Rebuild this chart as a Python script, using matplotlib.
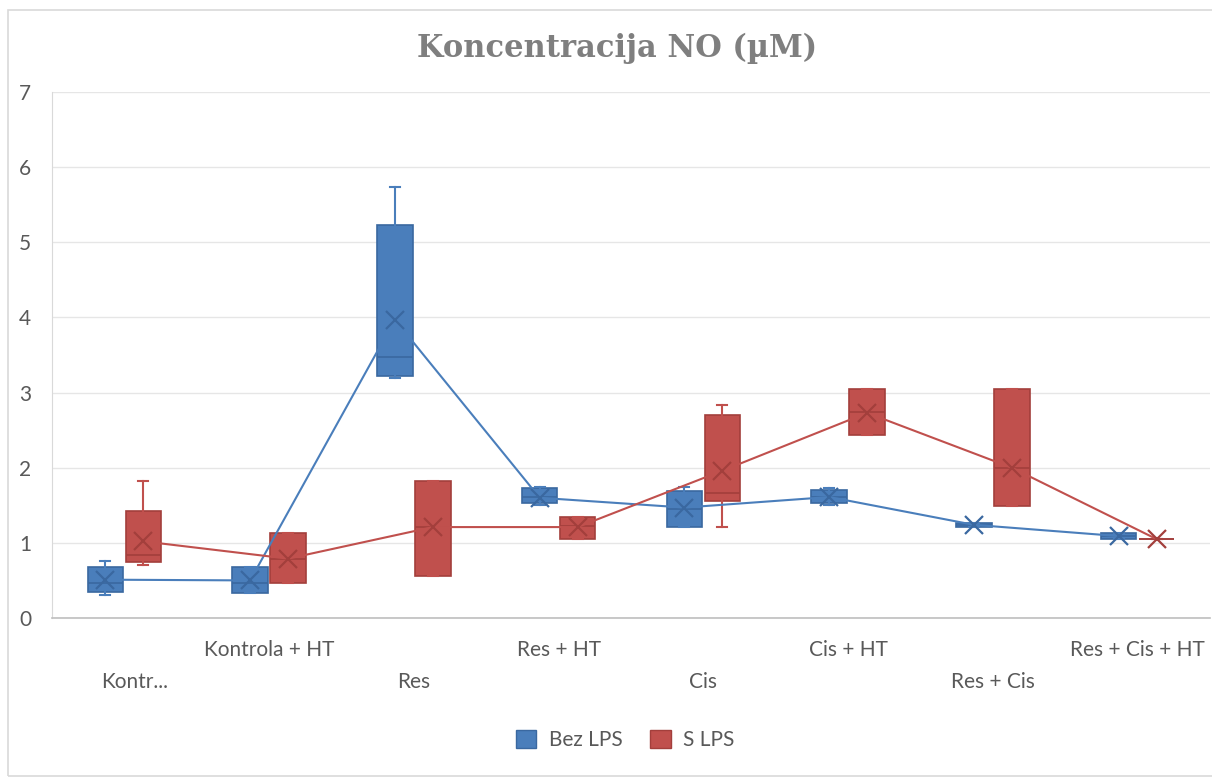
import numpy as np
import matplotlib
matplotlib.use("Agg")
import matplotlib.pyplot as plt
from matplotlib.patches import Rectangle, Patch
from matplotlib.transforms import blended_transform_factory

# ---------------------------------------------------------------------------
# podaci: koncentracija NO (uM) po skupinama
# ---------------------------------------------------------------------------
tick_labels = ["Kontr...", "Kontrola + HT", "Res", "Res + HT",
               "Cis", "Cis + HT", "Res + Cis", "Res + Cis + HT"]

# Bez LPS
bez_whislo = [0.31, 0.33, 3.20, 1.51, 1.21, 1.51, 1.21, 1.05]
bez_q1 = [0.35, 0.33, 3.22, 1.53, 1.21, 1.53, 1.21, 1.05]
bez_med = [0.47, 0.47, 3.47, 1.61, 1.45, 1.61, 1.24, 1.09]
bez_q3 = [0.68, 0.68, 5.23, 1.73, 1.69, 1.71, 1.27, 1.135]
bez_whishi = [0.76, 0.68, 5.73, 1.75, 1.75, 1.73, 1.27, 1.135]
bez_mean = [0.51, 0.50, 3.97, 1.60, 1.47, 1.61, 1.24, 1.09]

# S LPS
s_whislo = [0.70, 0.46, 0.56, 1.05, 1.21, 2.43, 1.49, 1.05]
s_q1 = [0.75, 0.46, 0.56, 1.05, 1.56, 2.43, 1.49, 1.05]
s_med = [0.84, 0.79, 1.21, 1.22, 1.66, 2.74, 2.00, 1.05]
s_q3 = [1.43, 1.13, 1.82, 1.35, 2.70, 3.05, 3.05, 1.05]
s_whishi = [1.82, 1.13, 1.82, 1.35, 2.83, 3.05, 3.05, 1.05]
s_mean = [1.02, 0.79, 1.21, 1.21, 1.96, 2.73, 2.00, 1.05]

BLUE_FILL, BLUE_EDGE = "#4a7ebb", "#3a68a0"
RED_FILL, RED_EDGE = "#c0504d", "#a33f3c"
TXT = "#595959"
FS = 15

plt.rcParams["font.family"] = ["Lato", "DejaVu Sans"]


def make_stats(lo, q1, med, q3, hi, mean):
    return [dict(whislo=a, q1=b, med=c, q3=d, whishi=e, mean=f, fliers=[])
            for a, b, c, d, e, f in zip(lo, q1, med, q3, hi, mean)]


fig = plt.figure(figsize=(12.12, 7.8), dpi=100)
ax = fig.add_axes([52 / 1212, 162 / 780, 1158 / 1212, 526 / 780])

x = np.arange(1, len(tick_labels) + 1)
off, bw = 0.131, 0.245

series = [
    (make_stats(bez_whislo, bez_q1, bez_med, bez_q3, bez_whishi, bez_mean),
     x - off, BLUE_FILL, BLUE_EDGE, bez_mean),
    (make_stats(s_whislo, s_q1, s_med, s_q3, s_whishi, s_mean),
     x + off, RED_FILL, RED_EDGE, s_mean),
]

for stats, pos, fill, edge, means in series:
    ax.bxp(stats, positions=pos, widths=bw, patch_artist=True,
           showmeans=False, capwidths=0.07,
           boxprops=dict(facecolor=fill, edgecolor=edge, linewidth=1.2),
           medianprops=dict(color=edge, linewidth=1.2),
           whiskerprops=dict(color=fill, linewidth=1.5),
           capprops=dict(color=fill, linewidth=1.5), zorder=3)
    # linija srednjih vrijednosti s oznakom X
    ax.plot(pos, means, color=fill, linewidth=1.5, marker="x",
            markersize=13, markeredgewidth=1.6, markeredgecolor=edge, zorder=4)

ax.set_xlim(0.5, len(tick_labels) + 0.5)
ax.set_ylim(0, 7)
ax.set_yticks(range(0, 8))
ax.set_xticks([])
ax.grid(axis="y", color="#e6e6e6", linewidth=1)
ax.set_axisbelow(True)
for s in ["top", "right"]:
    ax.spines[s].set_visible(False)
ax.spines["left"].set_color("#d9d9d9")
ax.spines["bottom"].set_color("#bfbfbf")
ax.spines["bottom"].set_linewidth(1.2)
ax.tick_params(axis="y", length=0, labelsize=FS, labelcolor=TXT, pad=15)

# oznake kategorija u dva reda
tr = blended_transform_factory(ax.transData, fig.transFigure)
for i, lab in enumerate(tick_labels):
    ypix = 650 if i % 2 else 682
    xi = x[i] + (0.07 if i == 0 else 0)
    ax.text(xi, (780 - ypix) / 780, lab, transform=tr, ha="center",
            va="center", fontsize=FS, color=TXT)

fig.text(617 / 1212, (780 - 48) / 780, "Koncentracija NO (µM)",
         ha="center", va="center", fontsize=22, fontweight="bold",
         color="#7f7f7f", family=["DejaVu Serif"])

handles = [Patch(facecolor=BLUE_FILL, edgecolor=BLUE_EDGE, label="Bez LPS"),
           Patch(facecolor=RED_FILL, edgecolor=RED_EDGE, label="S LPS")]
fig.legend(handles=handles, loc="center", bbox_to_anchor=(625 / 1212, (780 - 740) / 780),
           ncol=2, frameon=False, fontsize=FS, labelcolor=TXT,
           handlelength=1.0, handleheight=1.0, columnspacing=1.3, handletextpad=0.6)

# okvir grafikona
fig.patches.append(Rectangle((8 / 1212, 4 / 780), 1220 / 1212, 766 / 780,
                             transform=fig.transFigure, fill=False,
                             edgecolor="#d9d9d9", linewidth=1.2))

fig.savefig("out.png", dpi=100, facecolor="white")
